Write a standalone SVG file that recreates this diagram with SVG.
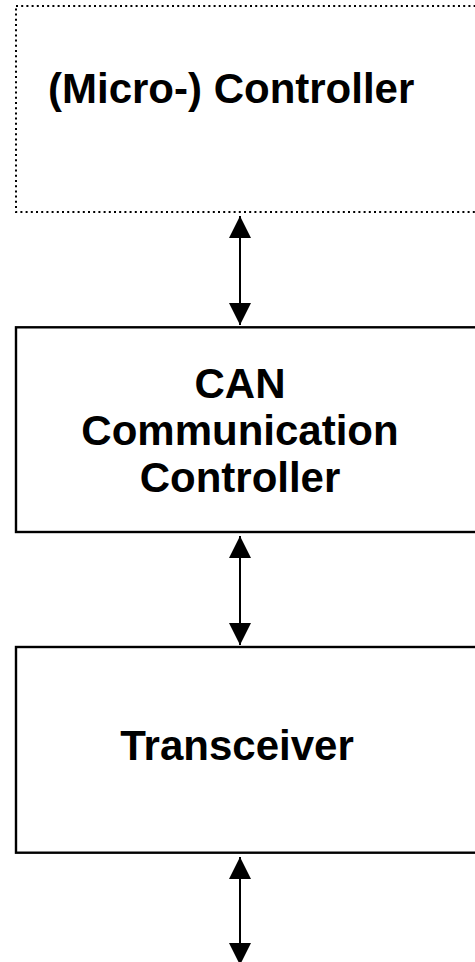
<svg xmlns="http://www.w3.org/2000/svg" width="475" height="962" viewBox="0 0 475 962">
<style>
.box{fill:#fff;stroke:#000;stroke-width:2.4}
.dotted{fill:#fff;stroke:#000;stroke-width:2;stroke-dasharray:2 3.2}
.lbl{font-family:"Liberation Sans",Arial,Helvetica,sans-serif;font-weight:bold;font-size:42px;fill:#000}
.conn{stroke:#000;stroke-width:2;fill:none;marker-start:url(#ah);marker-end:url(#ah)}
</style>
<defs>
<marker id="ah" viewBox="0 0 22 22" refX="22" refY="11" markerWidth="22" markerHeight="22" markerUnits="userSpaceOnUse" orient="auto-start-reverse">
<path d="M0,0 L22,11 L0,22 z" fill="#000"/>
</marker>
</defs>
<rect width="475" height="962" fill="#fff"/>
<g id="micro-controller">
<rect class="dotted" x="16" y="6" width="480" height="206"/>
<text class="lbl" x="48" y="103">(Micro-) Controller</text>
</g>
<g id="can-controller">
<rect class="box" x="16" y="327.3" width="480" height="204.7"/>
<text class="lbl" x="240" y="398" text-anchor="middle">CAN</text>
<text class="lbl" x="240" y="445" text-anchor="middle">Communication</text>
<text class="lbl" x="240" y="492" text-anchor="middle">Controller</text>
</g>
<g id="transceiver">
<rect class="box" x="16" y="647" width="480" height="205.7"/>
<text class="lbl" x="237" y="760" text-anchor="middle">Transceiver</text>
</g>
<g id="connectors">
<line class="conn" x1="240" y1="216" x2="240" y2="325"/>
<line class="conn" x1="240" y1="536" x2="240" y2="645"/>
<line class="conn" x1="240" y1="857" x2="240" y2="965"/>
</g>
</svg>
